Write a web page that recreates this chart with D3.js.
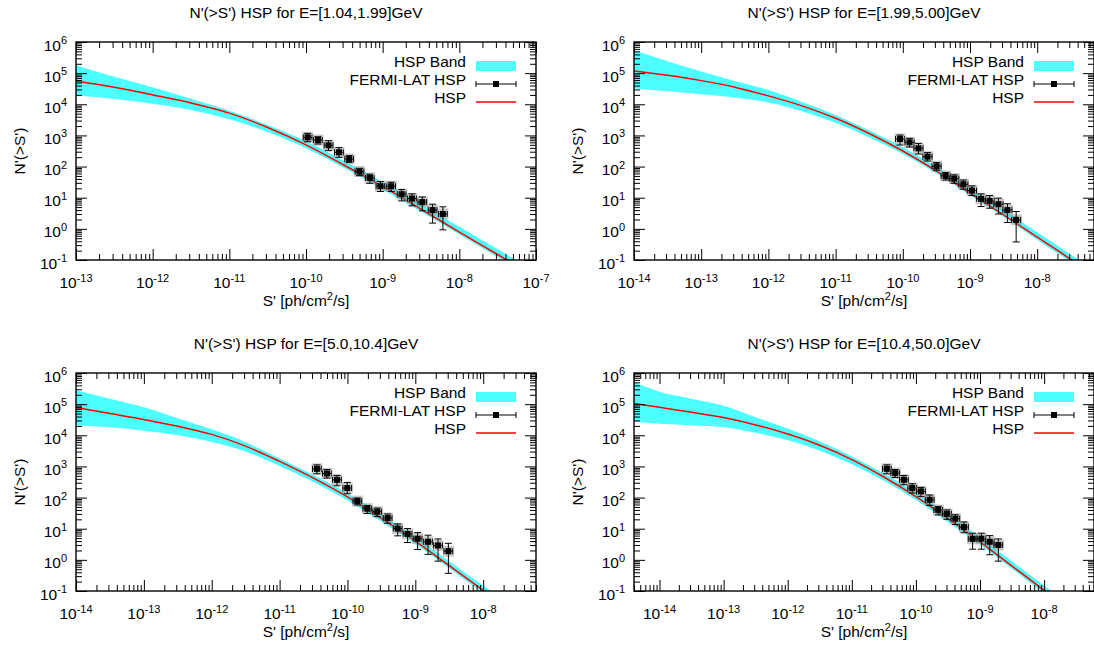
<!DOCTYPE html>
<html>
<head>
<meta charset="utf-8">
<script src="https://cdn.jsdelivr.net/npm/d3@7"></script>
<style>
  body { margin: 0; background: #fff; }
  svg { display: block; font-family: "Liberation Sans", Arial, Helvetica, sans-serif; }
</style>
</head>
<body>
<div id="chart"></div>
<script>
// Titres des 4 panneaux
const titles = [
    "N'(>S') HSP for E=[1.04,1.99]GeV",
    "N'(>S') HSP for E=[1.99,5.00]GeV",
    "N'(>S') HSP for E=[5.0,10.4]GeV",
    "N'(>S') HSP for E=[10.4,50.0]GeV"
]
const legendLabels = ['HSP Band', 'FERMI-LAT HSP', 'HSP']

// Domaines des axes
const xDomains = [[1e-13, 1e-7], [1e-14, 7e-8], [1e-14, 6e-8], [4e-15, 6e-8]]
const yDomain = [0.1, 1e6]

// Modèle HSP (ligne rouge) et bande
const modelS1 = [1e-13, 3.16e-13, 1e-12, 3.16e-12, 1e-11, 3.16e-11, 1e-10, 3.16e-10, 1e-9, 3.16e-9, 1e-8, 3.16e-8, 1e-7]
const modelN1 = [5.6e4, 3.5e4, 2.0e4, 1.1e4, 5.2e3, 1.8e3, 500, 110, 23, 4.3, 0.79, 0.15, 0.028]
const bandLo1 = [1.95e4, 1.48e4, 1.05e4, 6.6e3, 3.3e3, 1.3e3, 390, 90, 18.5, 3.6, 0.66, 0.124, 0.023]
const bandHi1 = [1.8e5, 7.6e4, 3.5e4, 1.5e4, 6.2e3, 2.15e3, 650, 150, 32, 6.1, 1.16, 0.22, 0.042]

const modelS2 = [1e-14, 3.16e-14, 1e-13, 3.16e-13, 1e-12, 3.16e-12, 1e-11, 3.16e-11, 1e-10, 3.16e-10, 1e-9, 3.16e-9, 1e-8, 3.16e-8, 1e-7]
const modelN2 = [1.17e5, 8.5e4, 5.75e4, 3.55e4, 1.86e4, 8.9e3, 3.55e3, 1.15e3, 316, 72, 14.1, 2.82, 0.54, 0.105, 0.019]
const bandLo2 = [3.2e4, 2.6e4, 2.1e4, 1.66e4, 1.15e4, 6.0e3, 2.55e3, 860, 255, 61, 12, 2.4, 0.45, 0.086, 0.016]
const bandHi2 = [5.4e5, 2.4e5, 1.12e5, 5.6e4, 2.85e4, 1.18e4, 4.5e3, 1.45e3, 420, 98, 19.6, 4.0, 0.78, 0.15, 0.028]

const modelS3 = [1e-14, 3.16e-14, 1e-13, 3.16e-13, 1e-12, 3.16e-12, 1e-11, 3.16e-11, 1e-10, 3.16e-10, 1e-9, 3.16e-9, 1e-8, 3.16e-8, 1e-7]
const modelN3 = [7.8e4, 5.0e4, 3.2e4, 1.95e4, 1.07e4, 4.5e3, 1.45e3, 420, 105, 21.4, 4.0, 0.65, 0.105, 0.018, 0.0032]
const bandLo3 = [2.1e4, 1.8e4, 1.4e4, 1.0e4, 6.1e3, 3.0e3, 1.04e3, 315, 80, 16.9, 3.25, 0.54, 0.086, 0.015, 0.0026]
const bandHi3 = [2.8e5, 1.5e5, 7.9e4, 3.5e4, 1.55e4, 6.0e3, 1.8e3, 530, 136, 29, 5.4, 0.9, 0.15, 0.026, 0.0043]

const modelS4 = [4e-15, 1e-14, 3.16e-14, 1e-13, 3.16e-13, 1e-12, 3.16e-12, 1e-11, 3.16e-11, 1e-10, 3.16e-10, 1e-9, 3.16e-9, 1e-8, 3.16e-8, 1e-7]
const modelN4 = [1.05e5, 7.9e4, 5.5e4, 3.7e4, 2.15e4, 1.1e4, 4.8e3, 1.66e3, 457, 107, 21, 3.8, 0.63, 0.105, 0.018, 0.0032]
const bandLo4 = [2.7e4, 2.35e4, 2.1e4, 1.8e4, 1.2e4, 6.9e3, 3.2e3, 1.17e3, 345, 83, 16.5, 3.1, 0.52, 0.085, 0.015, 0.0026]
const bandHi4 = [5.1e5, 2.5e5, 1.5e5, 8.9e4, 3.8e4, 1.65e4, 6.4e3, 2.1e3, 590, 142, 28, 5.3, 0.9, 0.15, 0.026, 0.0043]

// Points FERMI-LAT (S, N, bornes de l'erreur en N)
const fermiS1 = [1.05e-10, 1.43e-10, 1.97e-10, 2.69e-10, 3.66e-10, 4.98e-10, 6.79e-10, 9.35e-10, 1.29e-9, 1.77e-9, 2.41e-9, 3.29e-9, 4.48e-9, 6.10e-9]
const fermiN1 = [867, 711, 481, 287, 175, 69, 43, 23.4, 23.4, 13, 9.4, 7.2, 4.0, 3.0]
const fermiLo1 = [630, 530, 324, 198, 137, 51, 29, 15.8, 15.8, 7.9, 5.5, 3.8, 1.53, 0.93]
const fermiHi1 = [1164, 910, 678, 405, 224, 88, 57, 33, 31.4, 18.3, 13.3, 10.6, 6.2, 5.1]

const fermiS2 = [9.1e-11, 1.26e-10, 1.71e-10, 2.33e-10, 3.18e-10, 4.34e-10, 5.83e-10, 7.96e-10, 1.07e-9, 1.46e-9, 1.96e-9, 2.65e-9, 3.6e-9, 4.86e-9]
const fermiN2 = [766, 600, 385, 208, 102, 50, 41, 27, 17, 9.2, 7.9, 6.2, 4.0, 1.95]
const fermiLo2 = [492, 425, 253, 151, 76, 37, 29, 18.8, 11.7, 5.2, 4.6, 3.0, 1.6, 0.38]
const fermiHi2 = [1028, 805, 557, 280, 134, 64, 54, 37, 24, 13.3, 11.7, 9.7, 6.4, 3.6]

const fermiS3 = [3.55e-11, 4.98e-11, 7.0e-11, 9.93e-11, 1.40e-10, 1.96e-10, 2.75e-10, 3.91e-10, 5.5e-10, 7.7e-10, 1.08e-9, 1.54e-9, 2.16e-9, 3.07e-9]
const fermiN3 = [836, 593, 372, 202, 77, 44, 35, 22, 10.1, 6.8, 4.8, 3.8, 2.9, 1.9]
const fermiLo3 = [579, 421, 239, 133, 58, 31, 24.4, 15, 5.9, 3.6, 2.16, 1.5, 0.91, 0.37]
const fermiHi3 = [1122, 796, 512, 306, 97, 56, 46, 29.8, 14.3, 10.1, 7.5, 6.2, 4.7, 3.4]

const fermiS4 = [3.52e-11, 4.75e-11, 6.49e-11, 8.77e-11, 1.20e-10, 1.64e-10, 2.23e-10, 3.05e-10, 4.12e-10, 5.62e-10, 7.67e-10, 1.05e-9, 1.42e-9, 1.93e-9]
const fermiN4 = [836, 608, 372, 202, 158, 85, 40, 30, 21, 11.4, 4.7, 4.8, 3.8, 3.0]
const fermiLo4 = [579, 442, 258, 140, 107, 56, 27.7, 20, 13.6, 7.4, 2.2, 2.2, 1.46, 0.91]
const fermiHi4 = [1122, 796, 512, 277, 212, 121, 52, 40, 28, 16.5, 7.2, 7.2, 6.0, 4.7]

// Demi-largeur des barres d'erreur en S (facteur multiplicatif)
const fermiXErr = [1.14, 1.17, 1.16, 1.17]

// Regroupe les séries par panneau
const models = [
    { s: modelS1, n: modelN1, lo: bandLo1, hi: bandHi1 },
    { s: modelS2, n: modelN2, lo: bandLo2, hi: bandHi2 },
    { s: modelS3, n: modelN3, lo: bandLo3, hi: bandHi3 },
    { s: modelS4, n: modelN4, lo: bandLo4, hi: bandHi4 }
]
const fermi = [
    { s: fermiS1, n: fermiN1, lo: fermiLo1, hi: fermiHi1 },
    { s: fermiS2, n: fermiN2, lo: fermiLo2, hi: fermiHi2 },
    { s: fermiS3, n: fermiN3, lo: fermiLo3, hi: fermiHi3 },
    { s: fermiS4, n: fermiN4, lo: fermiLo4, hi: fermiHi4 }
]

// Mise en page
const width = 1094,
    height = 653
const frameW = 460,
    frameH = 218
const frames = [
    { x: 76, y: 42 }, { x: 634, y: 42 },
    { x: 76, y: 373 }, { x: 634, y: 373 }
]
const bandColor = '#4dffff'
const fontSize = 15.5,
    supSize = 11
const majorLen = 11,
    minorLen = 6

const svg = d3.select('#chart')
    .append('svg')
    .attr('width', width)
    .attr('height', height)

// Texte "10^exp"
const powLabel = (text, exp) => {
    text.append('tspan').text('10')
    text.append('tspan').attr('dy', -6.5).attr('font-size', supSize).text(exp)
}

// Graduations log : principales (décades) et secondaires (2..9)
const logTicks = domain => {
    const lo = Math.log10(domain[0]) - 1e-9,
        hi = Math.log10(domain[1]) + 1e-9
    const major = [], minor = []
    for (let e = Math.floor(lo); e <= Math.ceil(hi); e++) {
        if (e >= lo && e <= hi) major.push(Math.pow(10, e))
        for (let m = 2; m <= 9; m++) {
            const v = m * Math.pow(10, e)
            if (Math.log10(v) > lo && Math.log10(v) < hi) minor.push(v)
        }
    }
    return { major, minor }
}

const drawPanel = i => {
    const f = frames[i]
    const g = svg.append('g').attr('transform', `translate(${f.x}, ${f.y})`)

    const x = d3.scaleLog().domain(xDomains[i]).range([0, frameW])
    const y = d3.scaleLog().domain(yDomain).range([frameH, 0])

    // Zone de découpe
    g.append('clipPath').attr('id', `clip${i}`)
        .append('rect').attr('width', frameW).attr('height', frameH)
    const plot = g.append('g').attr('clip-path', `url(#clip${i})`)

    // Bande cyan
    const m = models[i]
    const rows = m.s.map((s, k) => ({ s, n: m.n[k], lo: m.lo[k], hi: m.hi[k] }))
    plot.append('path')
        .datum(rows)
        .attr('fill', bandColor)
        .attr('d', d3.area()
            .x(d => x(d.s))
            .y0(d => y(d.lo))
            .y1(d => y(d.hi))
            .curve(d3.curveMonotoneX))

    // Ligne rouge
    plot.append('path')
        .datum(rows)
        .attr('fill', 'none')
        .attr('stroke', '#ff0000')
        .attr('stroke-width', 1.5)
        .attr('d', d3.line()
            .x(d => x(d.s))
            .y(d => y(d.n))
            .curve(d3.curveMonotoneX))

    // Points avec barres d'erreur
    const p = fermi[i]
    const pts = p.s.map((s, k) => ({ s, n: p.n[k], lo: p.lo[k], hi: p.hi[k] }))
    const xe = fermiXErr[i]
    const pg = plot.selectAll('g.pt').data(pts).join('g').attr('class', 'pt')
    pg.append('rect')
        .attr('x', d => x(d.s) - 5.5).attr('y', d => y(d.n) - 5.5)
        .attr('width', 11).attr('height', 11)
        .attr('fill', '#888').attr('opacity', 0.45)
    pg.append('path')
        .attr('fill', 'none').attr('stroke', '#000').attr('stroke-width', 1)
        .attr('d', d => {
            const cx = x(d.s), cy = y(d.n)
            const x0 = x(d.s / xe), x1 = x(d.s * xe)
            const y0 = y(d.lo), y1 = y(d.hi)
            return `M${cx},${y0}V${y1}M${cx - 3.5},${y0}H${cx + 3.5}M${cx - 3.5},${y1}H${cx + 3.5}` +
                `M${x0},${cy}H${x1}M${x0},${cy - 3}V${cy + 3}M${x1},${cy - 3}V${cy + 3}`
        })
    pg.append('rect')
        .attr('x', d => x(d.s) - 3).attr('y', d => y(d.n) - 3)
        .attr('width', 6).attr('height', 6)
        .attr('fill', '#000')

    // Graduations vers l'intérieur sur les 4 côtés
    const xt = logTicks(xDomains[i]),
        yt = logTicks(yDomain)
    const axes = [
        [d3.axisBottom(x), `translate(0, ${frameH})`, xt],
        [d3.axisTop(x), 'translate(0, 0)', xt],
        [d3.axisLeft(y), 'translate(0, 0)', yt],
        [d3.axisRight(y), `translate(${frameW}, 0)`, yt]
    ]
    axes.forEach(([axis, tr, t]) => {
        [[t.major, majorLen], [t.minor, minorLen]].forEach(([vals, len]) => {
            const a = g.append('g').attr('transform', tr)
                .call(axis.tickValues(vals).tickSizeInner(-len).tickSizeOuter(0).tickFormat(''))
            a.select('.domain').remove()
            a.selectAll('line').attr('stroke', '#000').attr('stroke-width', 1)
        })
    })

    // Cadre
    g.append('rect')
        .attr('width', frameW).attr('height', frameH)
        .attr('fill', 'none').attr('stroke', '#000').attr('stroke-width', 1.4)

    // Étiquettes des graduations
    xt.major.forEach(v => {
        const t = g.append('text')
            .attr('x', x(v)).attr('y', frameH + 28)
            .attr('text-anchor', 'middle').attr('font-size', fontSize)
        powLabel(t, Math.round(Math.log10(v)))
    })
    yt.major.forEach(v => {
        const t = g.append('text')
            .attr('x', -9).attr('y', y(v) + 8.5)
            .attr('text-anchor', 'end').attr('font-size', fontSize)
        powLabel(t, Math.round(Math.log10(v)))
    })

    // Titre et noms des axes
    g.append('text')
        .attr('x', frameW / 2).attr('y', -24)
        .attr('text-anchor', 'middle').attr('font-size', fontSize)
        .text(titles[i])
    const xl = g.append('text')
        .attr('x', frameW / 2).attr('y', frameH + 46)
        .attr('text-anchor', 'middle').attr('font-size', fontSize)
    xl.append('tspan').text("S' [ph/cm")
    xl.append('tspan').attr('dy', -6.5).attr('font-size', supSize).text('2')
    xl.append('tspan').attr('dy', 6.5).text('/s]')
    g.append('text')
        .attr('transform', `translate(-51, ${frameH / 2}) rotate(-90)`)
        .attr('text-anchor', 'middle').attr('font-size', fontSize)
        .text("N'(>S')")

    // Légende
    const lx0 = frameW - 60, lx1 = frameW - 20
    const rowY = [24, 42, 60]
    legendLabels.forEach((lab, k) => {
        g.append('text')
            .attr('x', frameW - 70).attr('y', rowY[k] + 1)
            .attr('text-anchor', 'end').attr('font-size', fontSize)
            .text(lab)
    })
    g.append('rect')
        .attr('x', lx0).attr('y', rowY[0] - 5)
        .attr('width', lx1 - lx0).attr('height', 10)
        .attr('fill', bandColor)
    const ly = rowY[1], lm = (lx0 + lx1) / 2
    g.append('path')
        .attr('fill', 'none').attr('stroke', '#000').attr('stroke-width', 1)
        .attr('d', `M${lx0},${ly}H${lx1}M${lx0},${ly - 3}V${ly + 3}M${lx1},${ly - 3}V${ly + 3}`)
    g.append('rect')
        .attr('x', lm - 3).attr('y', ly - 3).attr('width', 6).attr('height', 6)
        .attr('fill', '#000')
    g.append('line')
        .attr('x1', lx0).attr('x2', lx1).attr('y1', rowY[2]).attr('y2', rowY[2])
        .attr('stroke', '#ff0000').attr('stroke-width', 1.5)
}

d3.range(4).forEach(drawPanel)
</script>
</body>
</html>
